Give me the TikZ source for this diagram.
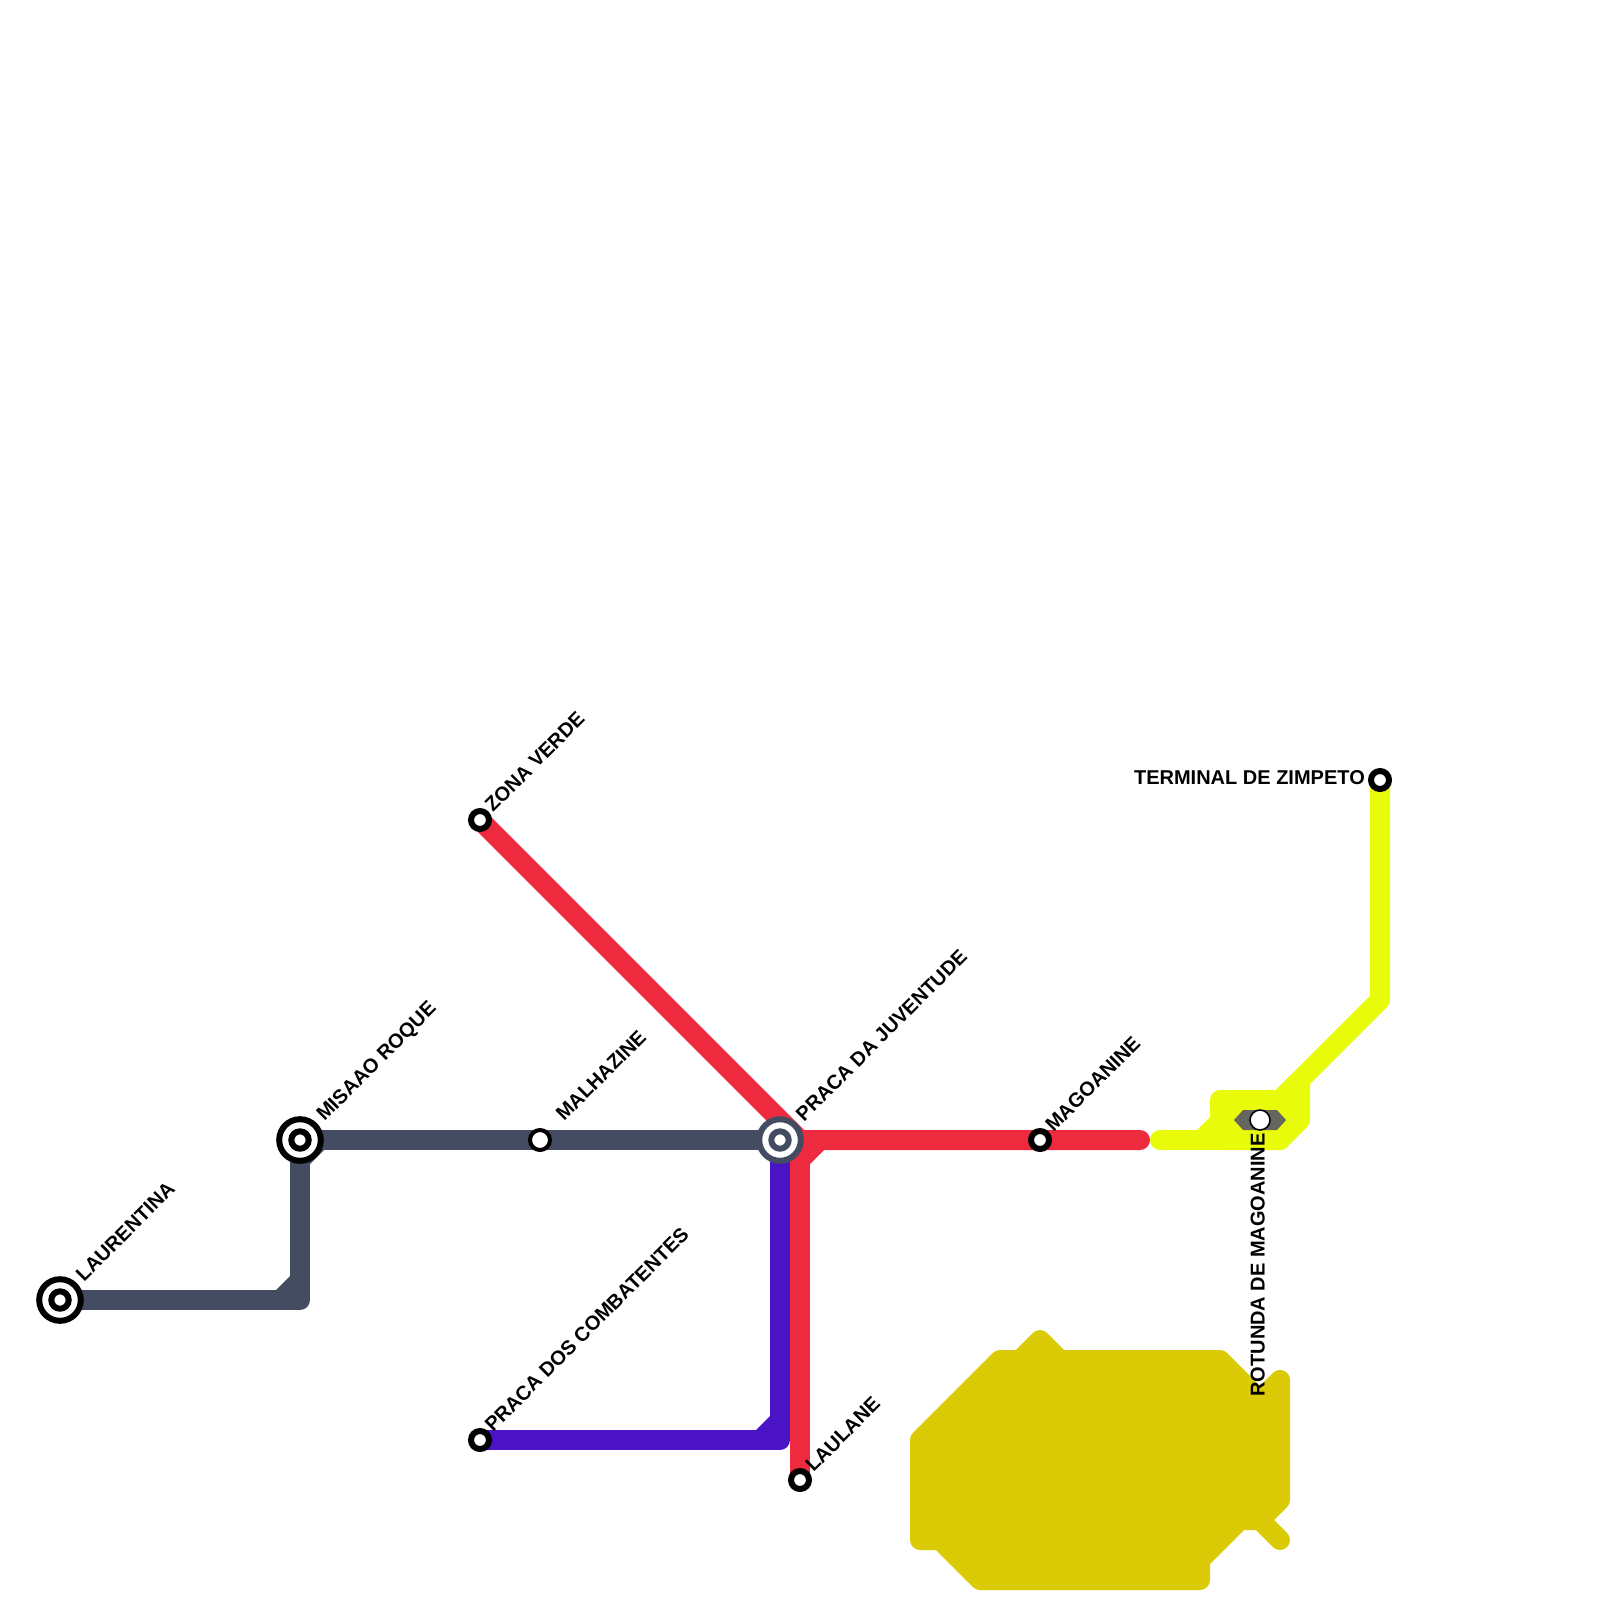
\documentclass[tikz,border=0pt]{standalone}
\usepackage{fontspec}
\setmainfont{Liberation Sans}
\definecolor{slateline}{HTML}{434C60}
\definecolor{redline}{HTML}{EE2A3E}
\definecolor{purpleline}{HTML}{4A14C4}
\definecolor{limeline}{HTML}{E8FB0A}
\definecolor{oliveline}{HTML}{DACB06}
\definecolor{hubgray}{HTML}{66665F}
\tikzset{
  metro/.style={line width=20pt,line join=round,line cap=round},
  stationdot/.style={circle,draw=black,fill=white,line width=6pt,minimum size=18pt,inner sep=0pt,outer sep=0pt},
  wide stop/.style={circle,draw=black,fill=white,line width=4pt,minimum size=20pt,inner sep=0pt,outer sep=0pt},
  plainstop/.style={circle,draw=black,fill=white,line width=1.6pt,minimum size=20pt,inner sep=0pt,outer sep=0pt},
  ringout/.style={circle,draw=#1,fill=white,line width=6pt,minimum size=41.6pt,inner sep=0pt,outer sep=0pt},
  ringin/.style={circle,draw=#1,fill=white,line width=6pt,minimum size=17.4pt,inner sep=0pt,outer sep=0pt},
  lab/.style={font=\fontsize{20}{20}\selectfont\bfseries,inner sep=0pt,text=black},
  uplab/.style={lab,rotate=45,anchor=base west},
}
\begin{document}
\begin{tikzpicture}[x=1pt,y=-1pt]
\useasboundingbox (0,0) rectangle (1600,1600);
\coordinate (laurentina) at (60,1300);
\coordinate (misaao) at (300,1140);
\coordinate (malhazine) at (540,1140);
\coordinate (juventude) at (780,1140);
\coordinate (redjoin) at (800,1140);
\coordinate (magoanine) at (1040,1140);
\coordinate (redend) at (1140,1140);
\coordinate (zona) at (480,820);
\coordinate (combat) at (480,1440);
\coordinate (laulane) at (800,1480);
\coordinate (rotunda) at (1260,1120);
\coordinate (terminal) at (1380,780);
\coordinate (graycorner) at (300,1300);
\coordinate (purplecorner) at (780,1440);
% slate line
\fill[slateline] (276,1290) -- (290,1276) -- (290,1290) -- cycle;
\fill[slateline] (310,1150) -- (324,1150) -- (310,1164) -- cycle;
\draw[metro,slateline] (laurentina) -- (graycorner) -- (misaao) -- (juventude);
% purple line
\fill[purpleline] (756,1430) -- (770,1416) -- (770,1430) -- cycle;
\draw[metro,purpleline] (combat) -- (purplecorner) -- (juventude);
% red line
\fill[redline] (810,1150) -- (824,1150) -- (810,1164) -- cycle;
\draw[metro,redline] (zona) -- (redjoin) -- (redend);
\draw[metro,redline] (redjoin) -- (laulane);
% lime line
\fill[limeline,draw=limeline,metro] (1220,1100) -- (1280,1100) -- (1300,1080) -- (1300,1120) -- (1280,1140) -- (1220,1140) -- cycle;
\fill[limeline] (1197,1130) -- (1210,1117) -- (1210,1130) -- cycle;
\draw[metro,limeline] (terminal) -- (1380,1000) -- (1280,1100);
\draw[metro,limeline] (1160,1140) -- (1280,1140);
% olive blob
\fill[oliveline,draw=oliveline,metro] (1000,1360) -- (1020,1360) -- (1040,1340) -- (1060,1360) -- (1220,1360) -- (1260,1400) -- (1280,1380) -- (1280,1500) -- (1260,1520) -- (1280,1540) -- (1260,1520) -- (1240,1520) -- (1200,1560) -- (1200,1580) -- (980,1580) -- (940,1540) -- (920,1540) -- (920,1440) -- cycle;
% hub
\fill[hubgray] (1234,1120) -- (1243,1110) -- (1277,1110) -- (1286,1120) -- (1277,1130) -- (1243,1130) -- cycle;
% stations
\node[ringout=black] (s1) at (laurentina) {};
\node[ringin=black] (s1i) at (laurentina) {};
\node[ringout=black] (s2) at (misaao) {};
\node[ringin=black] (s2i) at (misaao) {};
\node[ringout=slateline] (s3) at (juventude) {};
\node[ringin=slateline] (s3i) at (juventude) {};
\node[wide stop] (s4) at (malhazine) {};
\node[plainstop] (s5) at (rotunda) {};
\node[stationdot] (s6) at (zona) {};
\node[stationdot] (s7) at (combat) {};
\node[stationdot] (s8) at (laulane) {};
\node[stationdot] (s9) at (magoanine) {};
\node[stationdot] (s10) at (terminal) {};
% labels
\node[uplab] (t1) at (84,1282.5) {LAURENTINA};
\node[uplab] (t2) at (324.5,1122) {MISAAO ROQUE};
\node[uplab] (t3) at (564,1122) {MALHAZINE};
\node[uplab] (t4) at (804,1122.5) {PRACA DA JUVENTUDE};
\node[uplab] (t5) at (1053.5,1133) {MAGOANINE};
\node[uplab] (t6) at (493,813) {ZONA VERDE};
\node[uplab] (t7) at (493,1433) {PRACA DOS COMBATENTES};
\node[uplab] (t8) at (813.5,1473) {LAULANE};
\node[lab,anchor=base east] (t9) at (1365,784.5) {TERMINAL DE ZIMPETO};
\node[lab,rotate=90,anchor=base east] (t10) at (1264.5,1133) {ROTUNDA DE MAGOANINE};
\end{tikzpicture}
\end{document}
